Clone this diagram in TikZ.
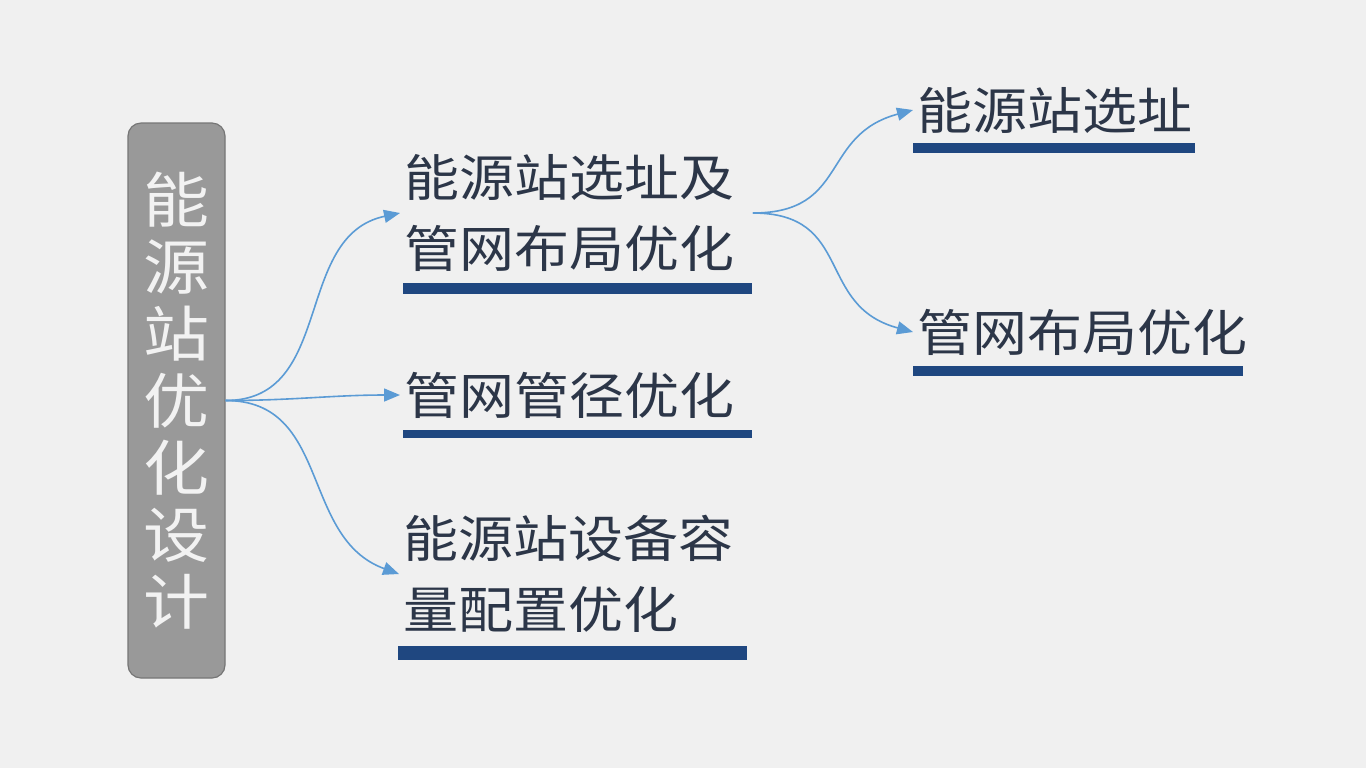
\documentclass[tikz,border=0pt]{standalone}
\usepackage{fontspec}
\usetikzlibrary{arrows.meta}
\newfontfamily\cjk[FakeStretch=1.1]{Noto Sans CJK SC}
\definecolor{bgcol}{RGB}{240,240,240}
\definecolor{boxcol}{RGB}{153,153,153}
\definecolor{boxedge}{RGB}{118,118,118}
\definecolor{txtcol}{RGB}{44,54,72}
\definecolor{barcol}{RGB}{31,71,128}
\definecolor{linkcol}{RGB}{91,155,213}

\begin{document}
\begin{tikzpicture}[x=0.5pt, y=0.5pt,
  txt/.style={anchor=west, inner xsep=2pt, inner ysep=0pt, align=left, text=txtcol,
    font=\cjk\fontsize{25}{35.5}\selectfont},
  bar/.style={fill=barcol},
  link/.style={-{Triangle[length=8pt,width=6.5pt]}, draw=linkcol, line width=0.8pt}]
  \fill[bgcol] (0,0) rectangle (1366,-768);

  \node (Design) at (176.5,-400.5) [rounded corners=6.5pt, fill=boxcol, draw=boxedge,
    line width=0.6pt, minimum width=48.5pt, minimum height=277.5pt, inner sep=0pt,
    align=center, text=white!95!black, font=\cjk\fontsize{30}{33.5}\selectfont]
    {能\\源\\站\\优\\化\\设\\计};
  \node (SiteNet) at (400,-213) [txt, text width=172pt] {能源站选址及\\管网布局优化};
  \node (Pipe) at (400,-395) [txt, text width=172pt] {管网管径优化};
  \node (Equip) at (399,-574) [txt, text width=172pt] {能源站设备容\\量配置优化};
  \node (Site) at (913,-110) [txt] {能源站选址};
  \node (Net) at (913,-332) [txt] {管网布局优化};

  \fill[bar] (403,-283) rectangle (752,-294);
  \fill[bar] (403,-430) rectangle (752,-438);
  \fill[bar] (398,-646) rectangle (747,-660);
  \fill[bar] (913,-143) rectangle (1195,-153);
  \fill[bar] (913,-366) rectangle (1243,-376);

  \draw[link] (Design.east) to[out=0, in=192, looseness=1.1] (SiteNet.west);
  \draw[link] (Design.east) to[out=0, in=180] (Pipe.west);
  \draw[link] (Design.east) to[out=0, in=160, looseness=1.1] (Equip.west);
  \draw[link] (SiteNet.east) to[out=0, in=195, looseness=1.3] (Site.west);
  \draw[link] (SiteNet.east) to[out=0, in=165, looseness=1.3] (Net.west);
\end{tikzpicture}
\end{document}
